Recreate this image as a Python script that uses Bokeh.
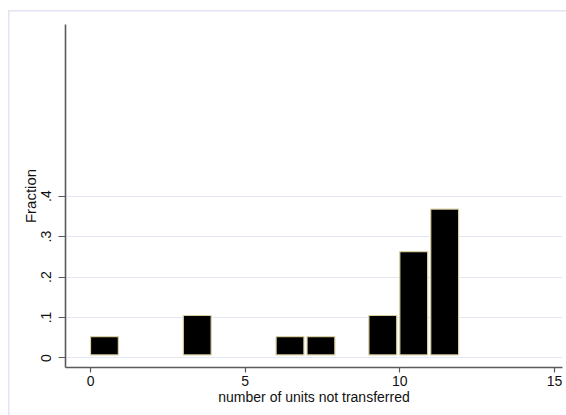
from bokeh.plotting import figure
from bokeh.models import Range1d, FixedTicker, ColumnDataSource
from bokeh.embed import file_html
from bokeh.resources import INLINE

# ---- data ----
bin_starts = [0, 3, 6, 7, 9, 10, 11]
fractions = [0.0526, 0.105, 0.0526, 0.0526, 0.105, 0.263, 0.368]
x_ticks = [0, 5, 10, 15]
y_ticks = [0, 0.1, 0.2, 0.3, 0.4]
y_tick_labels = ["0", ".1", ".2", ".3", ".4"]
x_title = "number of units not transferred"
y_title = "Fraction"

# ---- style constants ----
BAR_WIDTH = 0.9
BAR_BASE = 0.0075
FONT = "Liberation Sans"
AXIS_COLOR = "#5a5a5a"
GRID_COLOR = "#e2e7f1"
FRAME_COLOR = "#e3e3f3"

source = ColumnDataSource(dict(
    left=bin_starts,
    right=[b + BAR_WIDTH for b in bin_starts],
    top=fractions,
    bottom=[BAR_BASE] * len(bin_starts),
))

p = figure(width=566, height=415,
           x_range=Range1d(-0.809, 15.26), y_range=Range1d(-0.0235, 0.824),
           output_backend="svg", toolbar_location=None,
           min_border_left=65, min_border_right=4,
           min_border_top=24, min_border_bottom=48)

p.border_fill_alpha = 0
p.background_fill_color = "white"
p.outline_line_color = None
p.styles = {
    "background": (f"linear-gradient({FRAME_COLOR},{FRAME_COLOR}) 8px 10px / 100% 1.5px no-repeat, "
                   f"linear-gradient({FRAME_COLOR},{FRAME_COLOR}) 8px 10px / 1.5px 100% no-repeat, #ffffff")
}

p.quad(left="left", right="right", bottom="bottom", top="top", source=source,
       fill_color="black", line_color="#d8d0a2", line_width=1.2)

# grids
p.xgrid.visible = False
p.ygrid.ticker = FixedTicker(ticks=y_ticks)
p.ygrid.grid_line_color = GRID_COLOR
p.ygrid.grid_line_width = 1.2

# x axis
xa = p.xaxis[0]
xa.ticker = FixedTicker(ticks=x_ticks)
xa.axis_label = x_title
xa.axis_line_color = AXIS_COLOR
xa.axis_line_width = 1.6
xa.major_tick_line_color = AXIS_COLOR
xa.major_tick_line_width = 1.2
xa.major_tick_in = 0
xa.major_tick_out = 5
xa.minor_tick_line_color = None
xa.major_label_text_font = FONT
xa.major_label_text_font_size = "14px"
xa.major_label_text_color = "#111111"
xa.major_label_standoff = 3
xa.axis_label_text_font = FONT
xa.axis_label_text_font_size = "14px"
xa.axis_label_text_font_style = "normal"
xa.axis_label_text_color = "#111111"
xa.axis_label_standoff = 0

# y axis
ya = p.yaxis[0]
ya.ticker = FixedTicker(ticks=y_ticks)
ya.major_label_overrides = {t: s for t, s in zip(y_ticks, y_tick_labels)}
ya.major_label_orientation = "vertical"
ya.axis_label = y_title
ya.axis_line_color = AXIS_COLOR
ya.axis_line_width = 1.6
ya.major_tick_line_color = AXIS_COLOR
ya.major_tick_line_width = 1.2
ya.major_tick_in = 0
ya.major_tick_out = 7
ya.minor_tick_line_color = None
ya.major_label_text_font = FONT
ya.major_label_text_font_size = "14px"
ya.major_label_text_color = "#111111"
ya.major_label_standoff = 7
ya.axis_label_text_font = FONT
ya.axis_label_text_font_size = "15px"
ya.axis_label_text_font_style = "normal"
ya.axis_label_text_color = "#111111"
ya.axis_label_standoff = 0

open("out.html", "w").write(file_html(p, INLINE))
